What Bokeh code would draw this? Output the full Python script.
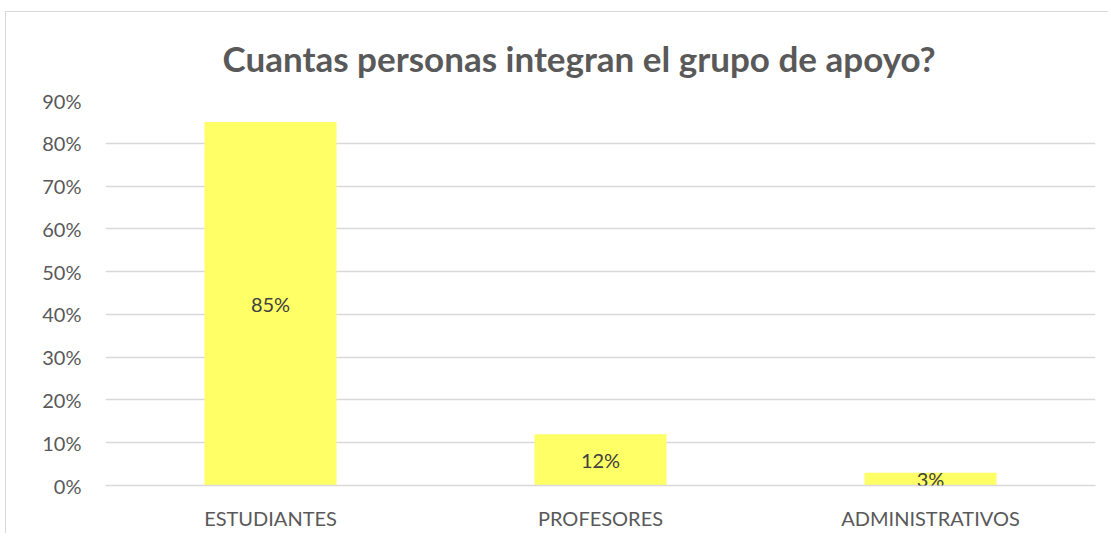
from bokeh.plotting import figure
from bokeh.models import ColumnDataSource, LabelSet, NumeralTickFormatter, FixedTicker
from bokeh.core.properties import value
from bokeh.embed import file_html
from bokeh.resources import INLINE

categories = ["ESTUDIANTES", "PROFESORES", "ADMINISTRATIVOS"]
values = [0.85, 0.12, 0.03]
value_labels = ["85%", "12%", "3%"]
y_ticks = [0.0, 0.1, 0.2, 0.3, 0.4, 0.5, 0.6, 0.7, 0.8, 0.9]
title_text = "Cuantas personas integran el grupo de apoyo?"

FONT = "Lato"

src = ColumnDataSource(dict(
    cat=categories,
    val=values,
    mid=[v / 2 for v in values],
    lab=value_labels,
))

p = figure(
    x_range=categories, y_range=(0, 0.9),
    width=1103, height=522,
    output_backend="svg", toolbar_location=None,
    min_border_left=99, min_border_right=14, min_border_top=88, min_border_bottom=49,
)
p.styles = {"border-left": "1px solid #d9d9d9", "border-top": "1px solid #d9d9d9",
            "margin-left": "5px", "margin-top": "11px"}

p.vbar(x="cat", top="val", width=0.4, source=src, fill_color="#FFFF66", line_color=None)

labels = LabelSet(x="cat", y="mid", text="lab", source=src,
                  text_align="center", text_baseline="middle",
                  text_font=value(FONT), text_font_size="20px", text_color="#404040")
p.add_layout(labels)

p.title.text = title_text
p.title.align = "left"
p.title.offset = 117
p.title.text_font = FONT
p.title.text_font_size = "35px"
p.title.text_font_style = "bold"
p.title.text_color = "#595959"
p.title.standoff = 44

p.outline_line_color = None
p.xgrid.grid_line_color = None
p.ygrid.grid_line_color = "#d9d9d9"
p.ygrid.grid_line_width = 1.5
p.yaxis.ticker = FixedTicker(ticks=y_ticks)
p.yaxis.formatter = NumeralTickFormatter(format="0%")
p.yaxis.axis_line_color = None
p.xaxis.axis_line_color = "#d9d9d9"
p.xaxis.axis_line_width = 1.5
for ax in (p.xaxis, p.yaxis):
    ax.major_tick_line_color = None
    ax.minor_tick_line_color = None
    ax.major_tick_out = 0
    ax.major_tick_in = 0
    ax.minor_tick_out = 0
    ax.major_label_text_font = FONT
    ax.major_label_text_font_size = "20px"
    ax.major_label_text_color = "#595959"
p.yaxis.major_label_standoff = 24
p.xaxis.major_label_standoff = 20
p.x_range.range_padding = 0

open("out.html", "w").write(file_html(p, INLINE))
